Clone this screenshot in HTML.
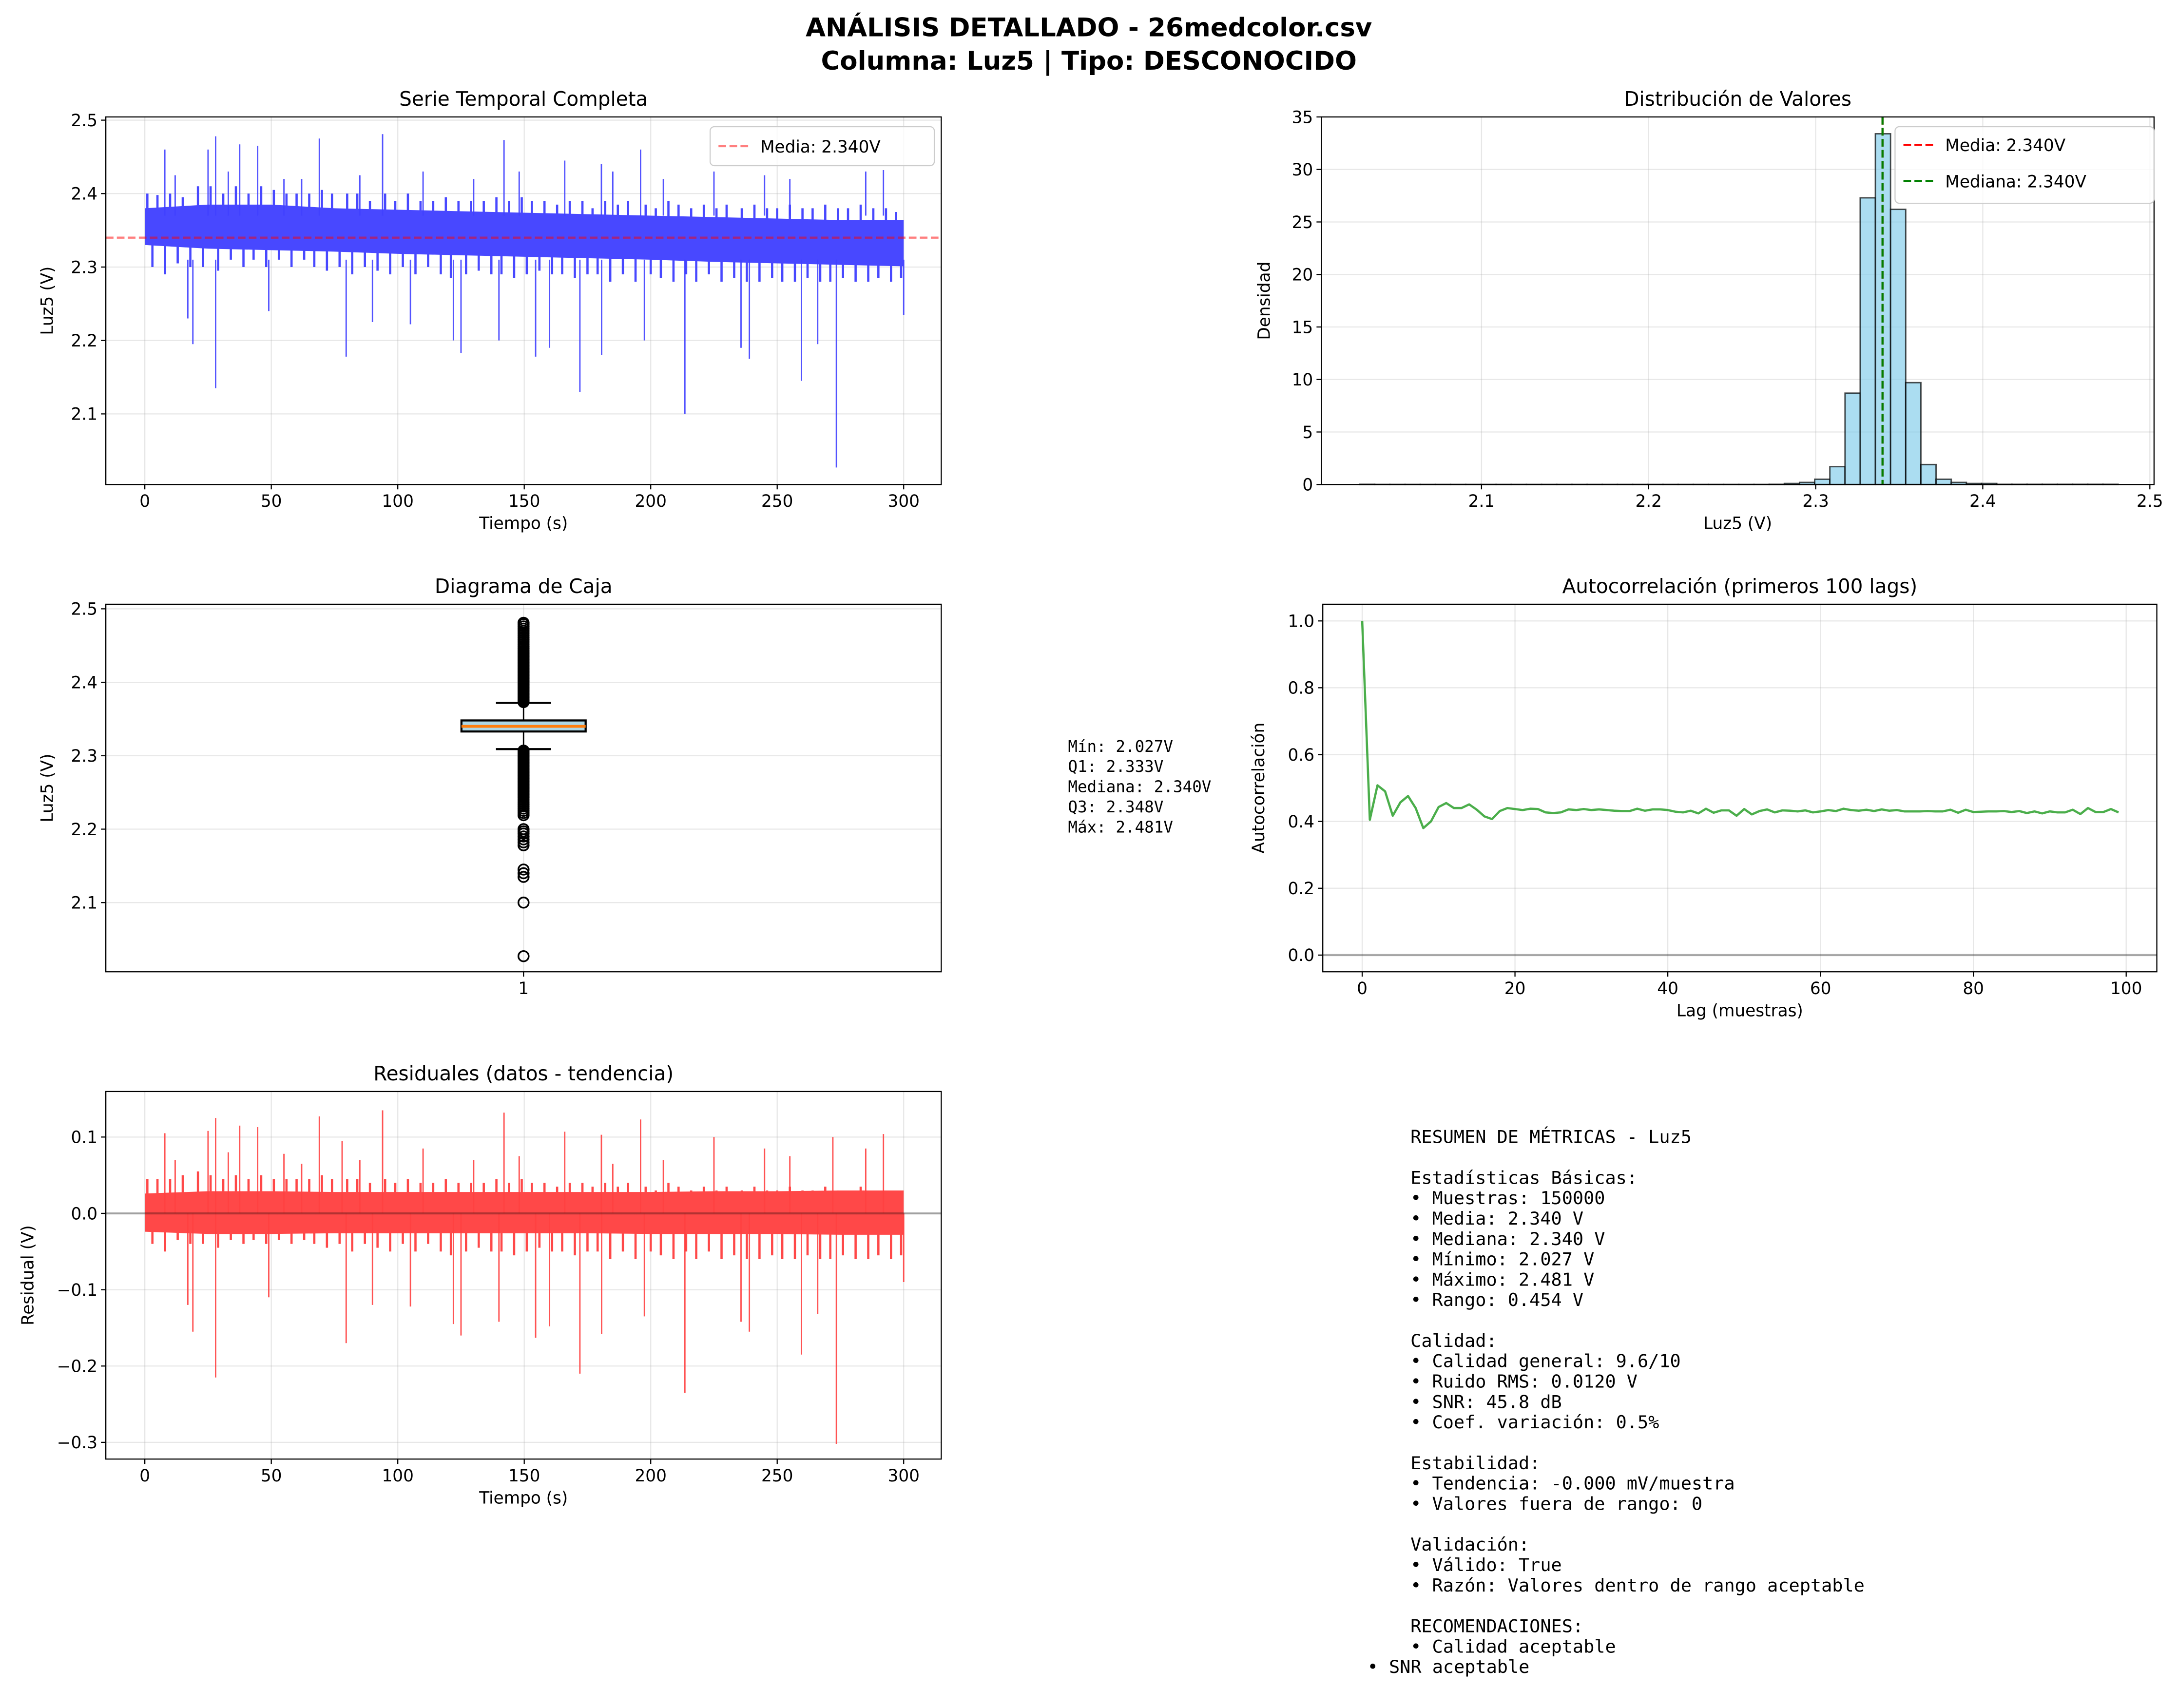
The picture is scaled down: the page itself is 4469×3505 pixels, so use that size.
<!DOCTYPE html>
<html><head><meta charset="utf-8">
<style>
html,body{margin:0;padding:0;background:#fff;}
svg{display:block;font-family:"DejaVu Sans","Liberation Sans",sans-serif;}
.mono{font-family:"DejaVu Sans Mono","Liberation Mono",monospace;}
</style></head>
<body>
<svg id="fig" xmlns="http://www.w3.org/2000/svg" width="4469" height="3505" viewBox="0 0 1564.2 1226.8">
<rect x="0" y="0" width="1564.2" height="1226.8" fill="#fff"/>
<text x="782" y="26" text-anchor="middle" font-weight="bold" font-size="18.5">ANÁLISIS DETALLADO - 26medcolor.csv</text>
<text x="782" y="50" text-anchor="middle" font-weight="bold" font-size="18.5">Columna: Luz5 | Tipo: DESCONOCIDO</text>
<g id="layer"></g>
<text class="mono" font-size="11.4" x="767" y="540">
<tspan x="767" dy="0">Mín: 2.027V</tspan><tspan x="767" dy="14.5">Q1: 2.333V</tspan><tspan x="767" dy="14.5">Mediana: 2.340V</tspan><tspan x="767" dy="14.5">Q3: 2.348V</tspan><tspan x="767" dy="14.5">Máx: 2.481V</tspan>
</text>
<text class="mono" font-size="12.9" y="821">
<tspan x="1013" dy="0">RESUMEN DE MÉTRICAS - Luz5</tspan>
<tspan x="1013" dy="29.28">Estadísticas Básicas:</tspan>
<tspan x="1013" dy="14.64">• Muestras: 150000</tspan>
<tspan x="1013" dy="14.64">• Media: 2.340 V</tspan>
<tspan x="1013" dy="14.64">• Mediana: 2.340 V</tspan>
<tspan x="1013" dy="14.64">• Mínimo: 2.027 V</tspan>
<tspan x="1013" dy="14.64">• Máximo: 2.481 V</tspan>
<tspan x="1013" dy="14.64">• Rango: 0.454 V</tspan>
<tspan x="1013" dy="29.28">Calidad:</tspan>
<tspan x="1013" dy="14.64">• Calidad general: 9.6/10</tspan>
<tspan x="1013" dy="14.64">• Ruido RMS: 0.0120 V</tspan>
<tspan x="1013" dy="14.64">• SNR: 45.8 dB</tspan>
<tspan x="1013" dy="14.64">• Coef. variación: 0.5%</tspan>
<tspan x="1013" dy="29.28">Estabilidad:</tspan>
<tspan x="1013" dy="14.64">• Tendencia: -0.000 mV/muestra</tspan>
<tspan x="1013" dy="14.64">• Valores fuera de rango: 0</tspan>
<tspan x="1013" dy="29.28">Validación:</tspan>
<tspan x="1013" dy="14.64">• Válido: True</tspan>
<tspan x="1013" dy="14.64">• Razón: Valores dentro de rango aceptable</tspan>
<tspan x="1013" dy="29.28">RECOMENDACIONES:</tspan>
<tspan x="1013" dy="14.64">• Calidad aceptable</tspan>
<tspan x="982" dy="14.64">• SNR aceptable</tspan>
</text>
</svg>
<script>
// ---------- data ----------
const tsEnvT = [0,25,50,75,100,125,150,175,200,225,250,275,300];
const tsEnvHi = [2.38,2.385,2.385,2.38,2.378,2.376,2.374,2.372,2.37,2.368,2.366,2.364,2.364];
const tsEnvLo = [2.33,2.325,2.323,2.321,2.318,2.316,2.314,2.312,2.31,2.307,2.305,2.303,2.301];
const tsSpikeT = [7.9,25,28,37.5,44.6,69,94,142,166,180.5,196,17,19,28,49,79.6,90,105,122,125,140,154.5,160,172,180.6,197.5,213.5,235.7,239,259.6,266,273.4,300,12,33,55,62,85,110,130,148,185,205,225,245,255,285,292];
const tsSpikeV = [2.46,2.46,2.478,2.467,2.465,2.475,2.481,2.473,2.445,2.44,2.46,2.23,2.195,2.135,2.24,2.178,2.225,2.222,2.2,2.183,2.2,2.178,2.19,2.13,2.18,2.2,2.1,2.19,2.175,2.145,2.195,2.027,2.235,2.425,2.43,2.42,2.42,2.425,2.43,2.42,2.43,2.43,2.42,2.43,2.425,2.42,2.43,2.432];
const tsFringeT = [1,3,5,8,10,13,15,18,21,23,26,29,31,34,36,39,41,43,46,48,51,53,56,58,60,63,65,67,70,72,74,77,80,82,84,87,89,92,95,97,99,102,104,107,109,112,114,117,119,121,124,127,129,132,134,137,139,141,144,146,149,151,153,156,158,161,163,165,168,170,173,175,177,179,182,184,187,189,191,194,198,200,202,204,207,209,211,214,216,218,221,223,226,228,230,233,236,238,241,243,246,248,250,252,255,257,260,262,264,267,269,271,274,276,278,281,283,286,288,290,293,295,297,299];
const tsFringeV = [2.40,2.30,2.398,2.29,2.40,2.305,2.395,2.30,2.41,2.30,2.41,2.295,2.40,2.31,2.41,2.30,2.40,2.31,2.41,2.30,2.405,2.31,2.40,2.30,2.40,2.31,2.40,2.30,2.405,2.295,2.40,2.30,2.40,2.29,2.40,2.30,2.39,2.295,2.40,2.29,2.39,2.30,2.40,2.29,2.39,2.30,2.39,2.29,2.395,2.285,2.39,2.29,2.39,2.295,2.39,2.29,2.395,2.29,2.39,2.285,2.395,2.29,2.39,2.295,2.39,2.29,2.385,2.29,2.39,2.285,2.39,2.29,2.38,2.29,2.39,2.28,2.385,2.29,2.39,2.28,2.385,2.29,2.38,2.285,2.39,2.28,2.385,2.29,2.38,2.28,2.385,2.29,2.38,2.28,2.385,2.285,2.38,2.28,2.385,2.28,2.38,2.285,2.38,2.28,2.385,2.28,2.38,2.285,2.38,2.28,2.385,2.28,2.38,2.285,2.38,2.28,2.385,2.28,2.38,2.285,2.38,2.28,2.375,2.285];
const meanV = 2.340;
const histEdgeStart = 2.027, histBinW = 0.00908;
const histVals = [0.02,0.01,0.01,0.01,0.01,0.01,0.01,0.01,0.01,0.01,0.01,0.01,0.01,0.01,0.01,0.01,0.01,0.01,0.01,0.01,0.01,0.01,0.01,0.01,0.01,0.01,0.01,0.02,0.1,0.2,0.5,1.7,8.7,27.3,33.4,26.2,9.7,1.9,0.5,0.2,0.1,0.1,0.02,0.02,0.02,0.02,0.02,0.02,0.02,0.02];
const medianV = 2.340;
const boxQ1 = 2.333, boxMed = 2.340, boxQ3 = 2.348, boxWLo = 2.309, boxWHi = 2.372;
const flierHi = [2.373,2.375,2.377,2.379,2.381,2.383,2.385,2.387,2.389,2.391,2.393,2.395,2.397,2.399,2.401,2.403,2.405,2.407,2.409,2.411,2.413,2.415,2.417,2.419,2.421,2.423,2.425,2.427,2.429,2.431,2.433,2.435,2.437,2.439,2.441,2.443,2.446,2.449,2.452,2.455,2.458,2.461,2.464,2.467,2.47,2.473,2.476,2.479,2.481];
const flierLo = [2.307,2.305,2.303,2.301,2.299,2.297,2.295,2.293,2.291,2.289,2.287,2.285,2.283,2.281,2.279,2.277,2.275,2.273,2.271,2.269,2.267,2.265,2.263,2.261,2.259,2.257,2.255,2.253,2.251,2.249,2.247,2.245,2.243,2.24,2.237,2.234,2.231,2.228,2.225,2.222,2.219,2.2,2.197,2.194,2.19,2.186,2.182,2.178,2.145,2.14,2.135,2.1,2.027];
const acfVals = [1.0,0.405,0.508,0.49,0.417,0.457,0.476,0.44,0.38,0.40,0.443,0.455,0.44,0.44,0.451,0.435,0.415,0.407,0.431,0.44,0.437,0.434,0.438,0.437,0.427,0.425,0.427,0.436,0.434,0.437,0.434,0.436,0.434,0.432,0.431,0.431,0.438,0.432,0.436,0.436,0.434,0.429,0.427,0.432,0.424,0.438,0.426,0.433,0.433,0.417,0.437,0.421,0.431,0.436,0.427,0.433,0.432,0.430,0.433,0.427,0.430,0.434,0.431,0.438,0.434,0.432,0.435,0.431,0.436,0.432,0.434,0.430,0.430,0.430,0.431,0.430,0.430,0.435,0.426,0.435,0.428,0.429,0.430,0.430,0.431,0.428,0.431,0.425,0.430,0.424,0.430,0.427,0.427,0.435,0.422,0.440,0.428,0.428,0.437,0.427];
const resEnvT = [0,25,50,75,100,125,150,175,200,225,250,275,300];
const resEnvHi = [0.026,0.029,0.029,0.028,0.028,0.028,0.028,0.028,0.028,0.029,0.029,0.03,0.03];
const resEnvLo = [-0.024,-0.027,-0.027,-0.026,-0.026,-0.026,-0.026,-0.026,-0.027,-0.027,-0.027,-0.028,-0.028];
const resSpikeT = [7.9,25,28,37.5,44.6,69,78,94,142,166,180.5,196,225,272,292,17,19,28,49,79.6,90,105,122,125,140,154.5,160,172,180.6,197.5,213.5,235.7,239,259.6,266,273.4,300,12,33,55,62,85,110,130,148,185,205,245,255,285];
const resSpikeV = [0.105,0.108,0.125,0.115,0.113,0.127,0.095,0.135,0.132,0.107,0.103,0.123,0.1,0.1,0.104,-0.12,-0.155,-0.215,-0.11,-0.17,-0.12,-0.122,-0.145,-0.16,-0.142,-0.163,-0.148,-0.21,-0.158,-0.135,-0.235,-0.142,-0.155,-0.185,-0.132,-0.302,-0.09,0.07,0.08,0.078,0.065,0.07,0.085,0.07,0.075,0.065,0.07,0.085,0.075,0.085];
const resFringeT = tsFringeT;
const resFringeV = [0.045,-0.04,0.045,-0.05,0.045,-0.035,0.05,-0.04,0.055,-0.04,0.05,-0.045,0.045,-0.035,0.05,-0.04,0.045,-0.035,0.05,-0.04,0.045,-0.035,0.045,-0.04,0.045,-0.035,0.045,-0.04,0.05,-0.045,0.045,-0.04,0.045,-0.05,0.045,-0.04,0.04,-0.045,0.045,-0.05,0.04,-0.04,0.045,-0.05,0.04,-0.04,0.04,-0.05,0.045,-0.055,0.04,-0.05,0.04,-0.045,0.04,-0.05,0.045,-0.05,0.04,-0.055,0.045,-0.05,0.04,-0.045,0.04,-0.05,0.035,-0.05,0.04,-0.055,0.04,-0.05,0.035,-0.05,0.04,-0.06,0.035,-0.05,0.04,-0.06,0.035,-0.05,0.03,-0.055,0.04,-0.06,0.035,-0.05,0.03,-0.06,0.035,-0.05,0.03,-0.06,0.035,-0.055,0.03,-0.06,0.035,-0.06,0.03,-0.055,0.03,-0.06,0.035,-0.06,0.03,-0.055,0.03,-0.06,0.035,-0.06,0.03,-0.055,0.03,-0.06,0.035,-0.06,0.03,-0.055,0.03,-0.06,0.025,-0.055];

// ---------- helpers ----------
const NS = "http://www.w3.org/2000/svg";
const layer = document.getElementById('layer');
function mk(tag, attrs, parent){
  const e = document.createElementNS(NS, tag);
  for (const k in attrs) e.setAttribute(k, attrs[k]);
  (parent||layer).appendChild(e);
  return e;
}
function txt(s, attrs, parent){ const e = mk('text', attrs, parent); e.textContent = s; return e; }
function lin(d0,d1,r0,r1){ return v => r0 + (v-d0)*(r1-r0)/(d1-d0); }

function axesFrame(name, L, T, R, B, xs, xt, xl, ys, yt, yl, title, xlab, ylab, ylabX){
  const g = mk('g', {});
  
  
  xt.forEach((v,i)=>{ const x=xs(v); mk('line',{x1:x,x2:x,y1:T,y2:B,stroke:'#b0b0b0','stroke-opacity':0.3,'stroke-width':0.8},g); });
  yt.forEach((v,i)=>{ const y=ys(v); mk('line',{x1:L,x2:R,y1:y,y2:y,stroke:'#b0b0b0','stroke-opacity':0.3,'stroke-width':0.8},g); });
  const marks = mk('g', {}, g);
  
  
  const ax = mk('g', {}, g);
  
  
  xt.forEach((v,i)=>{ const x=xs(v); mk('line',{x1:x,x2:x,y1:B,y2:B+3.5,stroke:'#000','stroke-width':0.8},ax);
    const t = txt(xl[i],{x:x,y:B+16,'text-anchor':'middle','font-size':12},ax);
    
     });
  yt.forEach((v,i)=>{ const y=ys(v); mk('line',{x1:L-3.5,x2:L,y1:y,y2:y,stroke:'#000','stroke-width':0.8},ax);
    const t = txt(yl[i],{x:L-6,y:y+4.3,'text-anchor':'end','font-size':12},ax);
    
     });
  const tt = txt(title,{x:(L+R)/2,y:T-8,'text-anchor':'middle','font-size':14.2},ax);
  
  
  if (xlab){ const xa = txt(xlab,{x:(L+R)/2,y:B+32,'text-anchor':'middle','font-size':12},ax);
    
     }
  if (ylab){ const ya = txt(ylab,{x:0,y:0,'text-anchor':'middle','font-size':12,transform:`translate(${ylabX},${(T+B)/2}) rotate(-90)`},ax);
    
     }
  return {marks, ax, g, frame: ()=>mk('rect',{x:L,y:T,width:R-L,height:B-T,fill:'none',stroke:'#000','stroke-width':0.8},ax)};
}

// ---------- Panel 1: time series ----------
(function(){
  const L=76,T=84,R=676,B=348;
  const xs = lin(0,300,104,649), ys = lin(2.5,2.1,86.3,297.3);
  const p = axesFrame('time-series-panel',L,T,R,B,xs,[0,50,100,150,200,250,300],['0','50','100','150','200','250','300'],ys,[2.1,2.2,2.3,2.4,2.5],['2.1','2.2','2.3','2.4','2.5'],'Serie Temporal Completa','Tiempo (s)','Luz5 (V)',38);
  let pts = tsEnvT.map((t,i)=>xs(t)+','+ys(tsEnvHi[i]));
  pts = pts.concat(tsEnvT.map((t,i)=>xs(t)+','+ys(tsEnvLo[i])).reverse());
  const band = mk('polygon',{points:pts.join(' '),fill:'#4848ff'},p.marks);
  
  
  tsFringeT.forEach((t,i)=>{
    const l = mk('line',{x1:xs(t),x2:xs(t),y1:ys(meanV),y2:ys(tsFringeV[i]),stroke:'#4848ff','stroke-width':1.6},p.marks);
    
    
  });
  tsSpikeT.forEach((t,i)=>{
    const base = tsSpikeV[i] > meanV ? 2.37 : 2.31;
    const l = mk('line',{x1:xs(t),x2:xs(t),y1:ys(base),y2:ys(tsSpikeV[i]),stroke:'#4040ff','stroke-opacity':0.9,'stroke-width':1},p.marks);
    
    
  });
  const ml = mk('line',{x1:L,x2:R,y1:ys(meanV),y2:ys(meanV),stroke:'#ff0000','stroke-opacity':0.5,'stroke-width':1.5,'stroke-dasharray':'5.5,2.4'},p.marks);
  
  
  p.frame();
  const lg = mk('g',{},p.ax);
  
  
  mk('rect',{x:510,y:91,width:161,height:28,rx:3,fill:'#fff','fill-opacity':0.8,stroke:'#ccc','stroke-width':0.8},lg);
  mk('line',{x1:516,x2:538,y1:105,y2:105,stroke:'#ff0000','stroke-opacity':0.5,'stroke-width':1.5,'stroke-dasharray':'5.5,2.4'},lg);
  txt('Media: 2.340V',{x:546,y:109.5,'font-size':12},lg);
})();

// ---------- Panel 2: histogram ----------
(function(){
  const L=949,T=84,R=1547,B=348;
  const xs = lin(2.0,2.5,944,1544), ys = lin(0,35,348,84);
  const p = axesFrame('histogram-panel',L,T,R,B,xs,[2.1,2.2,2.3,2.4,2.5],['2.1','2.2','2.3','2.4','2.5'],ys,[0,5,10,15,20,25,30,35],['0','5','10','15','20','25','30','35'],'Distribución de Valores','Luz5 (V)','Densidad',912);
  histVals.forEach((v,i)=>{
    const x0 = xs(histEdgeStart + i*histBinW), x1 = xs(histEdgeStart + (i+1)*histBinW);
    const r = mk('rect',{x:x0,y:ys(v),width:x1-x0,height:ys(0)-ys(v),fill:'#87ceeb','fill-opacity':0.7,stroke:'#000','stroke-opacity':0.7,'stroke-width':1},p.marks);
    
    
  });
  const m1 = mk('line',{x1:xs(meanV),x2:xs(meanV),y1:T,y2:B,stroke:'#ff0000','stroke-width':1.5,'stroke-dasharray':'5.5,2.4'},p.marks);
  
  
  const m2 = mk('line',{x1:xs(medianV),x2:xs(medianV),y1:T,y2:B,stroke:'#008000','stroke-width':1.5,'stroke-dasharray':'5.5,2.4'},p.marks);
  
  
  p.frame();
  const lg = mk('g',{},p.ax);
  
  
  mk('rect',{x:1361,y:91,width:186,height:55,rx:3,fill:'#fff','fill-opacity':0.8,stroke:'#ccc','stroke-width':0.8},lg);
  mk('line',{x1:1367,x2:1389,y1:104,y2:104,stroke:'#ff0000','stroke-width':1.5,'stroke-dasharray':'5.5,2.4'},lg);
  txt('Media: 2.340V',{x:1397,y:108.5,'font-size':12},lg);
  mk('line',{x1:1367,x2:1389,y1:130,y2:130,stroke:'#008000','stroke-width':1.5,'stroke-dasharray':'5.5,2.4'},lg);
  txt('Mediana: 2.340V',{x:1397,y:134.5,'font-size':12},lg);
})();

// ---------- Panel 3: box plot ----------
(function(){
  const L=76,T=434,R=676,B=698;
  const xs = lin(0.5,1.5,L,R), ys = lin(2.5,2.1,437.3,648.3);
  const p = axesFrame('box-plot-panel',L,T,R,B,xs,[1],['1'],ys,[2.1,2.2,2.3,2.4,2.5],['2.1','2.2','2.3','2.4','2.5'],'Diagrama de Caja',null,'Luz5 (V)',38);
  const cx = xs(1), hw = 44.6, cw = 19.8;
  const g = p.marks;
  mk('line',{x1:cx,x2:cx,y1:ys(boxQ3),y2:ys(boxWHi),stroke:'#000','stroke-width':1},g);
  mk('line',{x1:cx,x2:cx,y1:ys(boxQ1),y2:ys(boxWLo),stroke:'#000','stroke-width':1},g);
  const c1 = mk('line',{x1:cx-cw,x2:cx+cw,y1:ys(boxWHi),y2:ys(boxWHi),stroke:'#000','stroke-width':1.5},g);
  
  
  const c2 = mk('line',{x1:cx-cw,x2:cx+cw,y1:ys(boxWLo),y2:ys(boxWLo),stroke:'#000','stroke-width':1.5},g);
  
  
  const bx = mk('rect',{x:cx-hw,y:ys(boxQ3),width:2*hw,height:ys(boxQ1)-ys(boxQ3),fill:'#add8e6',stroke:'#000','stroke-width':1.5},g);
  
  
  const md = mk('line',{x1:cx-hw,x2:cx+hw,y1:ys(boxMed),y2:ys(boxMed),stroke:'#ff7f0e','stroke-width':2},g);
  
  
  flierHi.concat(flierLo).forEach(v=>{
    const c = mk('ellipse',{cx:cx,cy:ys(v),rx:3.7,ry:3.7,fill:'none',stroke:'#000','stroke-width':1.2},g);
    
    
  });
  p.frame();
})();

// ---------- Panel 4: autocorrelation ----------
(function(){
  const L=950,T=434,R=1549,B=698;
  const xs = lin(0,100,978.3,1527), ys = lin(0,1,686,446);
  const p = axesFrame('autocorrelation-panel',L,T,R,B,xs,[0,20,40,60,80,100],['0','20','40','60','80','100'],ys,[0,0.2,0.4,0.6,0.8,1.0],['0.0','0.2','0.4','0.6','0.8','1.0'],'Autocorrelación (primeros 100 lags)','Lag (muestras)','Autocorrelación',908);
  const z = mk('line',{x1:L,x2:R,y1:ys(0),y2:ys(0),stroke:'#000','stroke-opacity':0.3,'stroke-width':1.5},p.marks);
  
  
  const pl = mk('polyline',{points:acfVals.map((v,i)=>xs(i)+','+ys(v)).join(' '),fill:'none',stroke:'#2ca02c','stroke-opacity':0.85,'stroke-width':1.6,'stroke-linejoin':'round'},p.marks);
  
  
  p.frame();
})();

// ---------- Panel 5: residuals ----------
(function(){
  const L=76,T=784,R=676,B=1048;
  const xs = lin(0,300,104,649), ys = lin(0.1,-0.3,816.7,1036);
  const p = axesFrame('residuals-panel',L,T,R,B,xs,[0,50,100,150,200,250,300],['0','50','100','150','200','250','300'],ys,[-0.3,-0.2,-0.1,0.0,0.1],['−0.3','−0.2','−0.1','0.0','0.1'],'Residuales (datos - tendencia)','Tiempo (s)','Residual (V)',24);
  let pts = resEnvT.map((t,i)=>xs(t)+','+ys(resEnvHi[i]));
  pts = pts.concat(resEnvT.map((t,i)=>xs(t)+','+ys(resEnvLo[i])).reverse());
  const band = mk('polygon',{points:pts.join(' '),fill:'#ff4848'},p.marks);
  
  
  resFringeT.forEach((t,i)=>{
    const l = mk('line',{x1:xs(t),x2:xs(t),y1:ys(0),y2:ys(resFringeV[i]),stroke:'#ff4848','stroke-width':1.6},p.marks);
    
    
  });
  resSpikeT.forEach((t,i)=>{
    const l = mk('line',{x1:xs(t),x2:xs(t),y1:ys(0),y2:ys(resSpikeV[i]),stroke:'#ff4040','stroke-opacity':0.9,'stroke-width':1},p.marks);
    
    
  });
  const z = mk('line',{x1:L,x2:R,y1:ys(0),y2:ys(0),stroke:'#000','stroke-opacity':0.3,'stroke-width':1.5},p.marks);
  
  
  p.frame();
})();
</script>
</body></html>
